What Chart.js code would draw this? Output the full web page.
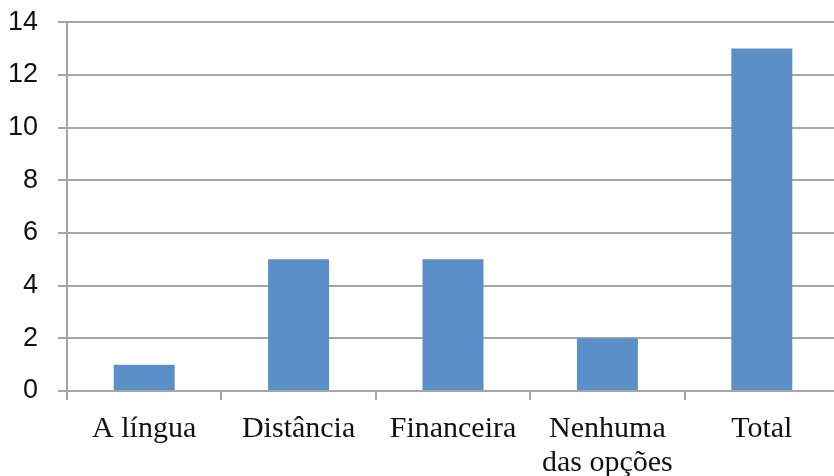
<!DOCTYPE html>
<html>
<head>
<meta charset="utf-8">
<script src="https://cdn.jsdelivr.net/npm/chart.js@4/dist/chart.umd.min.js"></script>
<style>
  html, body { margin: 0; padding: 0; background: #fff; overflow: hidden; }
  #wrap { width: 839px; height: 490px; margin-top: -14px; }
</style>
</head>
<body>
<div id="wrap"><canvas id="myChart"></canvas></div>
<script>
// Dados do gráfico
const categorias = ["A língua", "Distância", "Financeira", ["Nenhuma", "das opções"], "Total"];
const valores = [1, 5, 5, 2, 13];
const yMin = 0;
const yMax = 14;
const yPasso = 2;

const corGrade = '#A6A6A6';

const ctx = document.getElementById('myChart').getContext('2d');
const myChart = new Chart(ctx, {
    type: 'bar',
    data: {
        labels: categorias,
        datasets: [{
            data: valores,
            backgroundColor: '#5B8FC7',
            borderWidth: 0,
            categoryPercentage: 1,
            barPercentage: 0.395
        }]
    },
    options: {
        responsive: true,
        maintainAspectRatio: false,
        animation: false,
        layout: { padding: { top: 9, right: 0, left: 0, bottom: 0 } },
        plugins: { legend: { display: false }, tooltip: { enabled: false } },
        scales: {
            x: {
                grid: { drawOnChartArea: false, offset: true, tickLength: 9, color: corGrade, lineWidth: 2 },
                border: { color: corGrade, width: 2 },
                ticks: {
                    color: '#111',
                    padding: 12,
                    maxRotation: 0,
                    autoSkip: false,
                    font: { family: 'Liberation Serif', size: 30, lineHeight: 1.13 }
                },
                afterFit: (scale) => { scale.height = 85; }
            },
            y: {
                min: yMin,
                max: yMax,
                ticks: {
                    stepSize: yPasso,
                    color: '#111',
                    padding: 20,
                    font: { family: "'Liberation Sans Narrow', 'Liberation Sans'", size: 27 }
                },
                grid: { color: corGrade, lineWidth: 2, tickLength: 9 },
                border: { color: corGrade, width: 2 },
                afterFit: (scale) => { scale.width = 67; }
            }
        }
    }
});
</script>
</body>
</html>
